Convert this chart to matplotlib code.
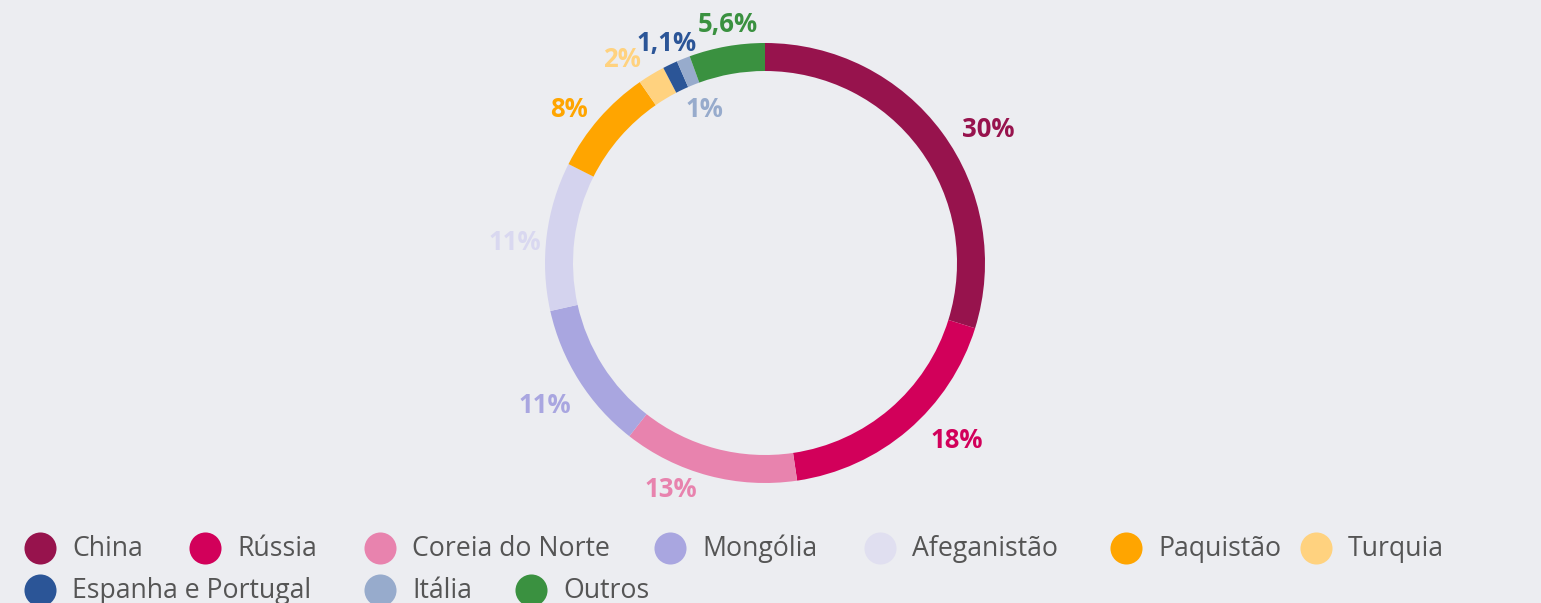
import matplotlib.pyplot as plt
import numpy as np

# dados
paises = ['China', 'Rússia', 'Coreia do Norte', 'Mongólia', 'Afeganistão',
          'Paquistão', 'Turquia', 'Espanha e Portugal', 'Itália', 'Outros']
valores = [30, 18, 13, 11, 11, 8, 2, 1.1, 1, 5.6]
rotulos = ['30%', '18%', '13%', '11%', '11%', '8%', '2%', '1,1%', '1%', '5,6%']
cores = ['#97134D', '#D2005A', '#E883AE', '#A9A6E0', '#D4D3EE',
         '#FFA500', '#FFD27F', '#2B5597', '#97ABCC', '#3A9140']
cores_legenda = ['#97134D', '#D2005A', '#E883AE', '#A9A6E0', '#E0DFF0',
                 '#FFA500', '#FFD27F', '#2B5597', '#97ABCC', '#3A9140']
cores_rotulo = ['#97134D', '#D2005A', '#E883AE', '#A9A6E0', '#D9D8F0',
                '#FFA500', '#FFD27F', '#2B5597', '#97ABCC', '#3A9140']
dentro = [False] * 8 + [True, False]

# ajuste fino dos rótulos (pixels, x p/ direita, y p/ baixo)
ajuste = [(4, 9), (10, -5), (-6, -5), (9, 14), (14, 9),
          (4, 4), (0, 2), (6, -1), (2, 2), (5, 0)]

BG = '#ECEDF1'
W, H = 1541, 603
fig = plt.figure(figsize=(W / 100, H / 100), dpi=100, facecolor=BG)

# donut: centro (765, 263), raio 220 px
cx, cy, R = 765, 263, 220
ax = fig.add_axes([(cx - R) / W, (H - cy - R) / H, 2 * R / W, 2 * R / H])
ax.set_facecolor(BG)
wedges, _ = ax.pie(valores, colors=cores, startangle=90, counterclock=False,
                   radius=1, wedgeprops=dict(width=28 / R, linewidth=0))
ax.set_xlim(-1, 1)
ax.set_ylim(-1, 1)
ax.set_aspect('equal')
ax.axis('off')

for w, txt, cor, dnt, (dx, dy) in zip(wedges, rotulos, cores_rotulo, dentro, ajuste):
    ang = np.deg2rad((w.theta1 + w.theta2) / 2)
    c, s = np.cos(ang), np.sin(ang)
    if dnt:
        r, ha = 0.76, 'center'
    else:
        r = 1.09
        if s > 0 and abs(c) < 0.45:
            ha = 'center'
            r = 1.1
        elif c >= 0:
            ha = 'left'
        else:
            ha = 'right'
    ax.annotate(txt, (r * c, r * s), xytext=(dx, -dy), textcoords='offset pixels',
                ha=ha, va='center', color=cor, fontsize=18.5, fontweight='bold',
                family=['Open Sans', 'DejaVu Sans'], annotation_clip=False)

# legenda (layout horizontal em fluxo)
lg = fig.add_axes([0, 0, 1, 1])
lg.set_xlim(0, W)
lg.set_ylim(H, 0)
lg.axis('off')
leg_x = [40, 205, 380, 670, 880, 1126, 1316, 40, 380, 531]
leg_y = [549] * 7 + [591] * 3
for nome, cor, x, y in zip(paises, cores_legenda, leg_x, leg_y):
    lg.scatter([x], [y - 1], s=32 ** 2 * 0.52, color=cor, marker='o', linewidths=0)
    lg.text(x + 32, y, nome, ha='left', va='center', color='#555555',
            fontsize=19.2, fontweight='normal', family=['Open Sans', 'DejaVu Sans'])

fig.savefig('out.png', dpi=100, facecolor=BG)
